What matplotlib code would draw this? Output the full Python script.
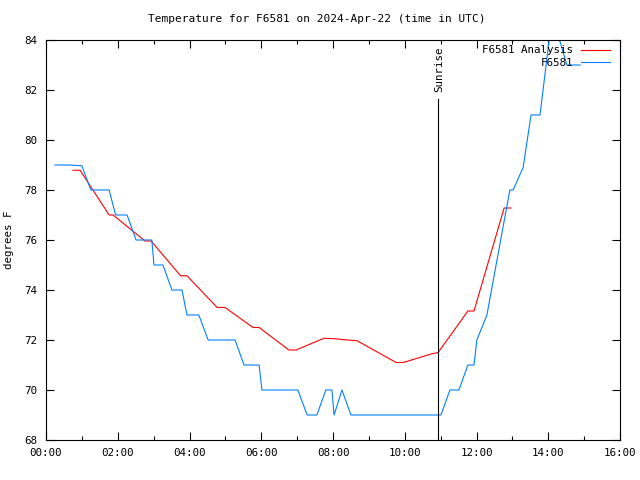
import matplotlib.pyplot as plt
from matplotlib.ticker import MultipleLocator, FuncFormatter

# hours since midnight UTC
stationHours = [0.25, 0.64, 1.0, 1.25, 1.76, 1.94, 2.26, 2.51, 2.95, 3.01, 3.26, 3.51, 3.79,
                3.93, 4.26, 4.52, 5.27, 5.52, 5.94, 6.02, 7.02, 7.28, 7.55, 7.8, 7.97, 8.03,
                8.25, 8.5, 11.01, 11.26, 11.51, 11.76, 11.93, 12.01, 12.29, 12.93, 13.02,
                13.3, 13.52, 13.77, 14.11, 14.52, 14.89]
stationTemp = [79.0, 79.0, 78.97, 78.0, 78.0, 77.0, 77.0, 76.0, 76.0, 75.0, 75.0, 74.0, 74.0,
               73.0, 73.0, 72.0, 72.0, 71.0, 71.0, 70.0, 70.0, 69.0, 69.0, 70.0, 70.0, 69.0,
               70.0, 69.0, 69.0, 70.0, 70.0, 71.0, 71.0, 72.0, 73.0, 78.0, 78.0,
               78.9, 81.0, 81.0, 85.0, 83.0, 83.0]

analysisHours = [0.75, 0.95, 1.76, 1.87, 2.76, 2.93, 3.75, 3.93, 4.77, 4.99, 5.77, 5.94,
                 6.77, 6.97, 7.75, 8.06, 8.40, 8.67, 9.76, 9.96, 10.76, 10.93, 11.76, 11.93,
                 12.77, 12.96]
analysisTemp = [78.79, 78.79, 77.0, 77.0, 75.96, 75.96, 74.57, 74.57, 73.3, 73.3, 72.5, 72.5,
                71.6, 71.6, 72.07, 72.05, 72.0, 71.97, 71.1, 71.1, 71.45, 71.5, 73.16, 73.16,
                77.28, 77.28]

sunriseHour = 10.93

plt.rcParams['font.family'] = 'DejaVu Sans Mono'
plt.rcParams['font.size'] = 7.8

fig = plt.figure(figsize=(6.4, 4.8), dpi=100)
ax = fig.add_axes([46 / 640, 40 / 480, 574 / 640, 400 / 480])

ax.plot(analysisHours, analysisTemp, c="#ff0000", linewidth=0.8, label="F6581 Analysis")
ax.plot(stationHours, stationTemp, c="#0080ff", linewidth=0.8, label="F6581")

ax.plot([sunriseHour, sunriseHour], [68, 81.65], c="black", linewidth=0.8)
ax.text(sunriseHour + 0.03, 81.9, "Sunrise", rotation=90, ha="center", va="bottom")

ax.axis([0, 16, 68, 84])
ax.xaxis.set_major_locator(MultipleLocator(2))
ax.xaxis.set_minor_locator(MultipleLocator(1))
ax.xaxis.set_major_formatter(FuncFormatter(lambda v, p: "%02d:00" % int(v)))
ax.yaxis.set_major_locator(MultipleLocator(2))
ax.tick_params(which='both', direction='in', top=True, right=True, width=0.8)
ax.tick_params(which='major', length=6, pad=6)
ax.tick_params(which='minor', length=3)
for s in ax.spines.values():
    s.set_linewidth(0.8)

ax.set_ylabel("degrees F", labelpad=8)
fig.text(317 / 640, 1 - 19 / 480, "Temperature for F6581 on 2024-Apr-22 (time in UTC)",
         fontsize=8, ha="center", va="center")
ax.legend(loc="upper right", frameon=False, markerfirst=False, handlelength=2.6,
          borderaxespad=0, handletextpad=0.75, labelspacing=0.25,
          bbox_to_anchor=(0.9895, 0.9975))

fig.savefig("out.png", dpi=100)
